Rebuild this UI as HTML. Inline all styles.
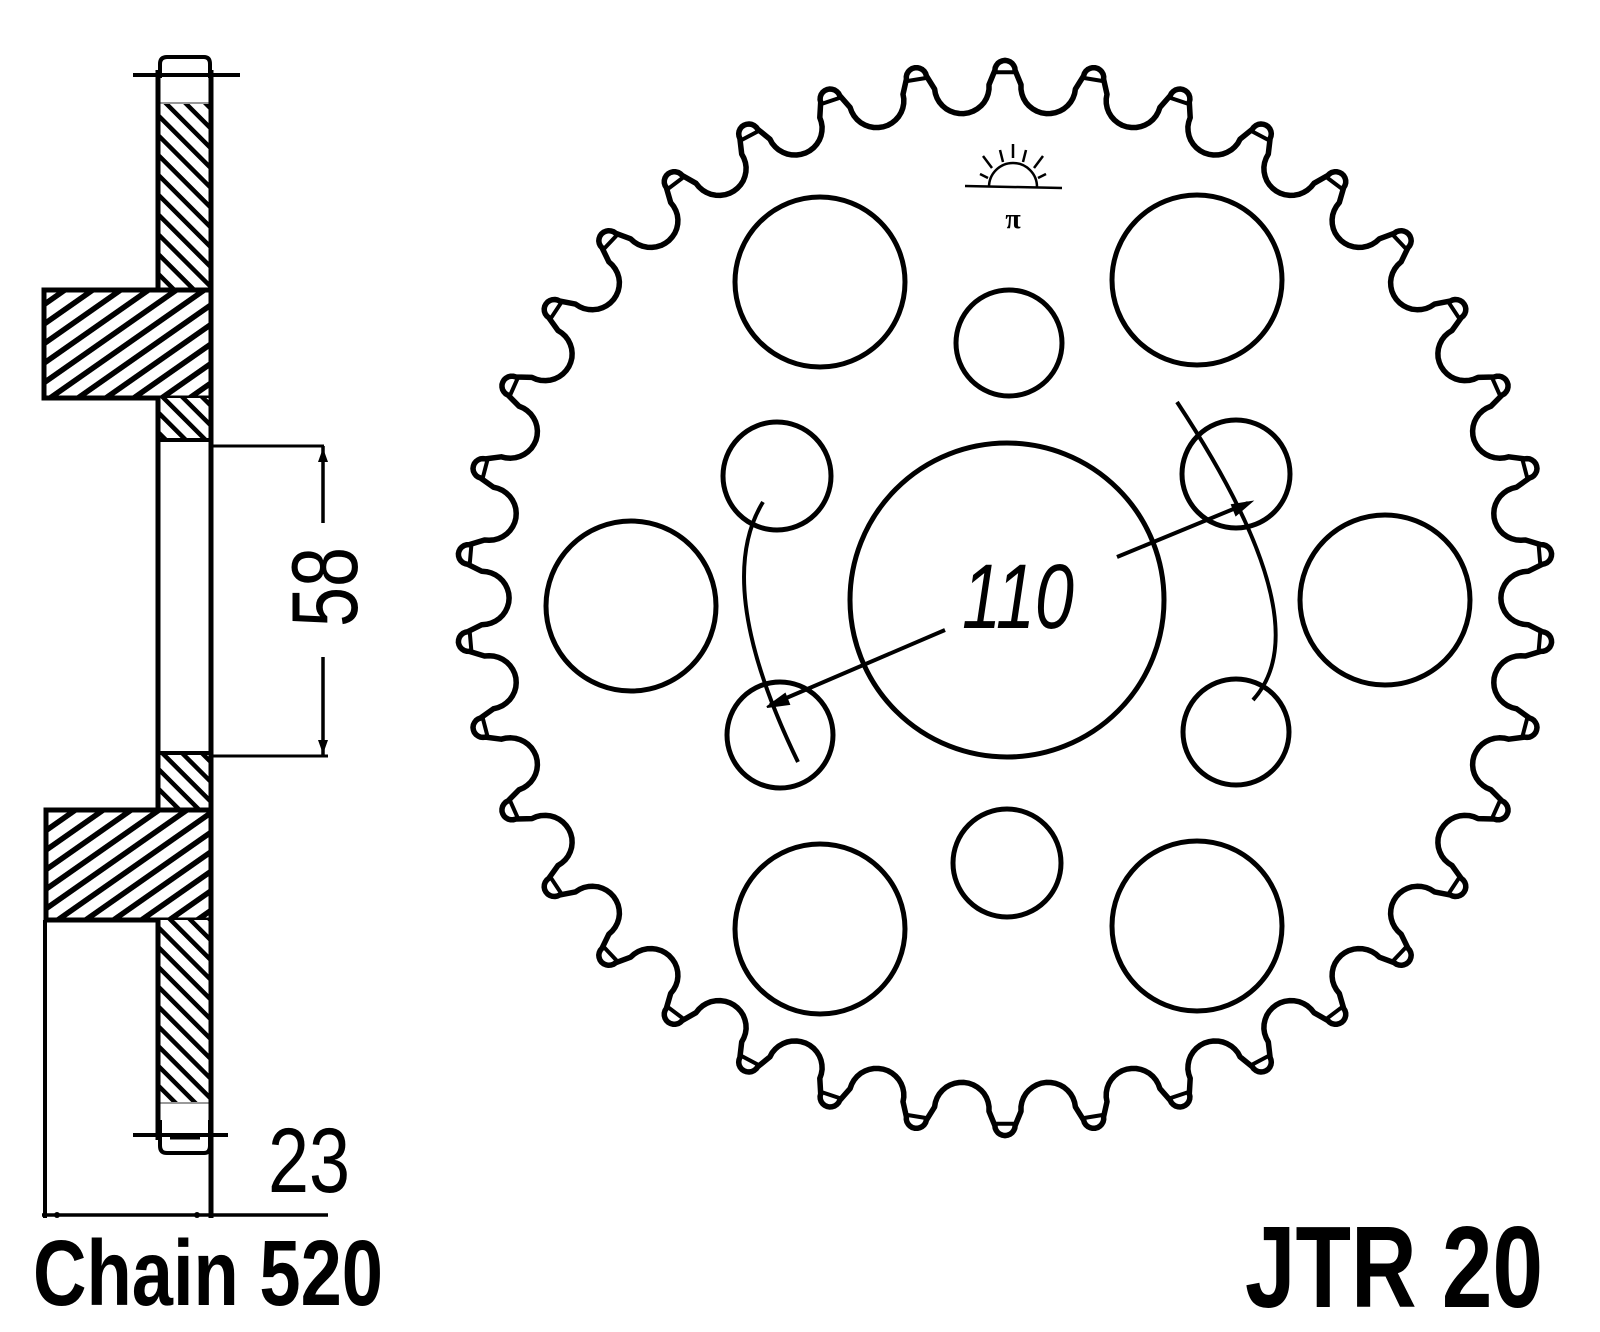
<!DOCTYPE html>
<html><head><meta charset="utf-8">
<style>
html,body{margin:0;padding:0;background:#fff;}
svg{display:block;}
</style></head>
<body>
<svg id="s" width="1600" height="1332" viewBox="0 0 1600 1332" xmlns="http://www.w3.org/2000/svg">
<defs>
<pattern id="hb" patternUnits="userSpaceOnUse" width="14" height="14" patternTransform="rotate(-45)">
<rect width="14" height="14" fill="#fff"/><rect x="0" y="0" width="4.5" height="14" fill="#000"/>
</pattern>
<pattern id="hf" patternUnits="userSpaceOnUse" width="16" height="16" patternTransform="rotate(55)">
<rect width="16" height="16" fill="#fff"/><rect x="0" y="0" width="5.5" height="16" fill="#000"/>
</pattern>
</defs>
<g fill="none" stroke="#000" stroke-width="5">
<path d="M160 78 L160 64 Q160 57 167 57 L204 57 Q210 57 210 64 L210 78" stroke-width="4"/>
<line x1="133" y1="75" x2="240" y2="75" stroke-width="4"/>
<line x1="160" y1="103" x2="210" y2="103" stroke-width="2" stroke="#999"/>
<rect x="158" y="104" width="53" height="186" fill="url(#hb)" stroke="none"/>
<rect x="44" y="290" width="167" height="108" fill="url(#hf)" stroke-width="5"/>
<rect x="158" y="398" width="53" height="42" fill="url(#hb)" stroke="none"/>
<rect x="158" y="753" width="53" height="57" fill="url(#hb)" stroke="none"/>
<rect x="46" y="810" width="165" height="110" fill="url(#hf)" stroke-width="5"/>
<rect x="158" y="920" width="53" height="183" fill="url(#hb)" stroke="none"/>
<line x1="160" y1="1103" x2="210" y2="1103" stroke-width="2" stroke="#999"/>
<line x1="158" y1="70" x2="158" y2="290" stroke-width="5"/>
<line x1="158" y1="398" x2="158" y2="810" stroke-width="5"/>
<line x1="158" y1="920" x2="158" y2="1140" stroke-width="5"/>
<line x1="211" y1="70" x2="211" y2="1218" stroke-width="5"/>
<path d="M160 1120 L160 1146 Q160 1153 167 1153 L204 1153 Q210 1153 210 1146 L210 1120" stroke-width="4"/>
<path d="M170 1138 L200 1138" stroke-width="3"/>
<line x1="133" y1="1135" x2="228" y2="1135" stroke-width="4"/>
<line x1="158" y1="440" x2="211" y2="440" stroke-width="4"/>
<line x1="158" y1="753" x2="211" y2="753" stroke-width="4"/>
<line x1="211" y1="446" x2="324" y2="446" stroke-width="3"/>
<line x1="211" y1="756" x2="328" y2="756" stroke-width="3"/>
<line x1="323" y1="446" x2="323" y2="523" stroke-width="3.5"/>
<line x1="323" y1="657" x2="323" y2="756" stroke-width="3.5"/>
<path d="M323 448 L318 462 L328 462 Z M323 754 L318 740 L328 740 Z" fill="#000" stroke="none"/>
<line x1="45" y1="920" x2="45" y2="1218" stroke-width="4"/>
<line x1="42" y1="1215" x2="328" y2="1215" stroke-width="3.5"/>
<circle cx="57" cy="1215" r="3" fill="#000" stroke="none"/>
<circle cx="197" cy="1215" r="3" fill="#000" stroke="none"/>

<path id="teeth" d="" stroke-width="5.5" stroke-linejoin="round"/>
<path id="chords" d="" stroke-width="4"/>
<circle cx="1007" cy="600" r="157"/>
<circle cx="820" cy="282" r="85"/>
<circle cx="1197" cy="280" r="85"/>
<circle cx="631" cy="606" r="85"/>
<circle cx="1385" cy="600" r="85"/>
<circle cx="820" cy="929" r="85"/>
<circle cx="1197" cy="926" r="85"/>
<circle cx="1009" cy="343" r="53"/>
<circle cx="1007" cy="863" r="54"/>
<circle cx="777" cy="476" r="54"/>
<circle cx="1236" cy="474" r="54"/>
<circle cx="780" cy="735" r="53"/>
<circle cx="1236" cy="732" r="53"/>
<path d="M763 502 Q712 585 798 762" stroke-width="4"/>
<path d="M1177 402 Q1323 623 1253 700" stroke-width="4"/>
<line x1="945" y1="630" x2="770" y2="705" stroke-width="4"/>
<line x1="1117" y1="557" x2="1248" y2="503" stroke-width="4"/>
<path d="M767 707 L785 694 L789 704 Z" fill="#000" stroke-width="2"/>
<path d="M1251 502 L1232 505 L1236 515 Z" fill="#000" stroke-width="2"/>
<g stroke-width="2.5">
<line x1="965" y1="186" x2="1062" y2="188"/>
<path d="M989 187 A24 24 0 0 1 1037 187"/>
<line x1="1013" y1="144" x2="1013" y2="158"/>
<line x1="1000" y1="150" x2="1003" y2="162"/>
<line x1="1026" y1="150" x2="1023" y2="162"/>
<line x1="983" y1="156" x2="992" y2="168"/>
<line x1="1043" y1="156" x2="1034" y2="168"/>
<line x1="980" y1="174" x2="988" y2="178"/>
<line x1="1046" y1="174" x2="1038" y2="178"/>
</g>
</g>
<text x="1013" y="228" font-family="Liberation Serif, serif" font-size="28" font-weight="bold" text-anchor="middle">π</text>
<text x="962" y="628" font-family="Liberation Sans, sans-serif" font-style="italic" font-size="92" textLength="112" lengthAdjust="spacingAndGlyphs">110</text>
<text transform="translate(357,627) rotate(-90)" font-family="Liberation Sans, sans-serif" font-size="94" textLength="80" lengthAdjust="spacingAndGlyphs">58</text>
<text x="268" y="1192" font-family="Liberation Sans, sans-serif" font-size="92" textLength="82" lengthAdjust="spacingAndGlyphs">23</text>
<text x="33" y="1305" font-family="Liberation Sans, sans-serif" font-weight="bold" font-size="93" textLength="350" lengthAdjust="spacingAndGlyphs">Chain 520</text>
<text x="1245" y="1307" font-family="Liberation Sans, sans-serif" font-weight="bold" font-size="116" textLength="298" lengthAdjust="spacingAndGlyphs">JTR 20</text>
</svg>
<script>
(function(){
var cx=1005,cy=598,sx=1.01,sy=0.99,n=38,P=2*Math.PI/n;
var Rs=518,rs=27,Rt=533,rt=10;
function X(dx){return (cx+dx*sx).toFixed(1);}
function Y(dy){return (cy+dy*sy).toFixed(1);}
var d="",c="",first=true;
for(var k=0;k<n;k++){
 var th=-Math.PI/2+k*P;
 var u=[Math.cos(th),Math.sin(th)],t=[-Math.sin(th),Math.cos(th)];
 var T=[Rt*u[0],Rt*u[1]];
 for(var g=0;g<=180;g+=15){
  var gr=g*Math.PI/180;
  var px=T[0]+rt*(-Math.cos(gr)*t[0]+Math.sin(gr)*u[0]);
  var py=T[1]+rt*(-Math.cos(gr)*t[1]+Math.sin(gr)*u[1]);
  d+=(first?"M":"L")+X(px)+" "+Y(py)+" ";first=false;
 }
 c+="M"+X(T[0]-rt*t[0]-2*u[0])+" "+Y(T[1]-rt*t[1]-2*u[1])+" L"+X(T[0]+rt*t[0]-2*u[0])+" "+Y(T[1]+rt*t[1]-2*u[1])+" ";
 var ph=th+P/2;
 var v=[Math.cos(ph),Math.sin(ph)],w=[-Math.sin(ph),Math.cos(ph)];
 var C=[Rs*v[0],Rs*v[1]];
 for(var b=180;b>=0;b-=10){
  var br=b*Math.PI/180;
  var qx=C[0]+rs*(Math.cos(br)*w[0]-Math.sin(br)*v[0]);
  var qy=C[1]+rs*(Math.cos(br)*w[1]-Math.sin(br)*v[1]);
  d+="L"+X(qx)+" "+Y(qy)+" ";
 }
}
d+="Z";
document.getElementById("teeth").setAttribute("d",d);
document.getElementById("chords").setAttribute("d",c);
})();
</script>
</body></html>
